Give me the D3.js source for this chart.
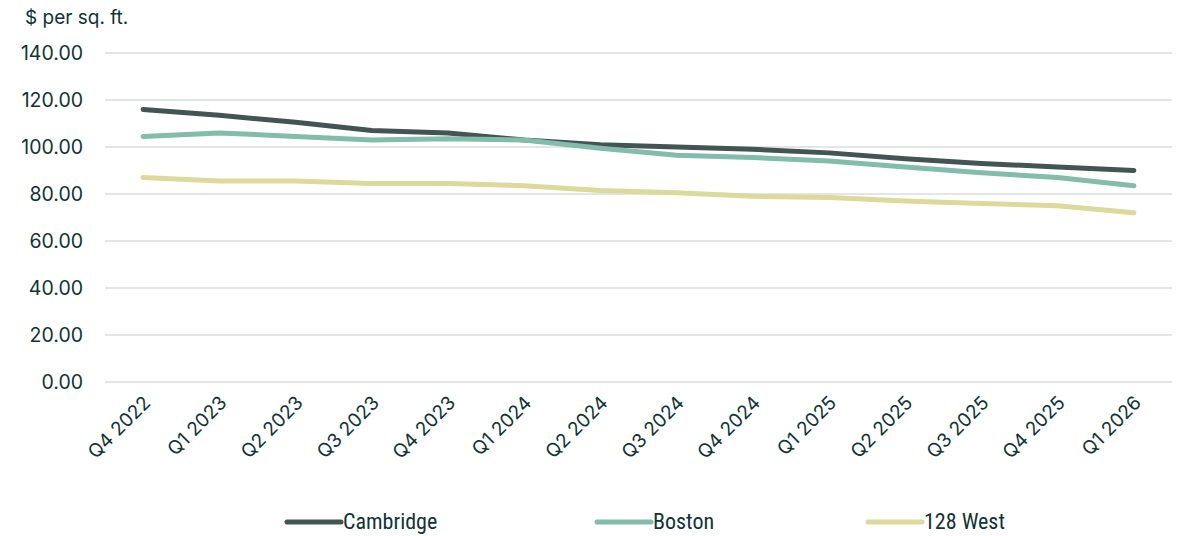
<!DOCTYPE html>
<html>
<head>
<meta charset="utf-8">
<script src="https://cdn.jsdelivr.net/npm/d3@7"></script>
<style>
  html, body { margin: 0; padding: 0; background: #ffffff; }
  svg { display: block; }
</style>
</head>
<body>
<svg id="chart" width="1178" height="536"></svg>
<script>
const categories = ["Q4 2022","Q1 2023","Q2 2023","Q3 2023","Q4 2023","Q1 2024","Q2 2024","Q3 2024","Q4 2024","Q1 2025","Q2 2025","Q3 2025","Q4 2025","Q1 2026"];
const cambridge = [116.0, 113.5, 110.5, 107.0, 106.0, 103.0, 101.0, 100.0, 99.0, 97.5, 95.0, 93.0, 91.5, 90.0];
const boston    = [104.5, 106.0, 104.5, 103.0, 103.5, 103.0, 99.5, 96.5, 95.5, 94.0, 91.5, 89.0, 87.0, 83.5];
const west128   = [87.0, 85.5, 85.5, 84.5, 84.5, 83.5, 81.5, 80.5, 79.0, 78.5, 77.0, 76.0, 75.0, 72.0];
const yTicks = [0, 20, 40, 60, 80, 100, 120, 140];
const seriesNames = ["Cambridge", "Boston", "128 West"];
const seriesColors = ["#435553", "#82bcaa", "#dcd99a"];
const yTitle = "$ per sq. ft.";

(function () {
const series = [cambridge, boston, west128].map((vals, i) => ({ name: seriesNames[i], color: seriesColors[i], values: vals }));

const svg = d3.select("#chart");
const textColor = "#0f3434";
const font = "Inter, 'Open Sans', sans-serif";

const mLeft = 105, mRight = 1172, mTop = 53, mBottom = 382;

const x = d3.scalePoint().domain(categories).range([mLeft, mRight]).padding(0.5);
const y = d3.scaleLinear().domain([0, 140]).range([mBottom, mTop]);

// gridlines
svg.append("g").selectAll("line").data(yTicks).join("line")
  .attr("x1", mLeft).attr("x2", mRight)
  .attr("y1", d => y(d)).attr("y2", d => y(d))
  .attr("stroke", "#e2e7e6").attr("stroke-width", 2);

// y axis labels
const yAxis = d3.axisLeft(y).tickValues(yTicks).tickFormat(d3.format(".2f")).tickSize(0).tickPadding(0);
const gy = svg.append("g").attr("transform", `translate(83,0)`).call(yAxis);
gy.select(".domain").remove();
gy.selectAll("text").attr("fill", textColor).style("font-family", font).style("font-size", "19.5px").attr("dy", "0.35em");

// x axis labels
const xAxis = d3.axisBottom(x).tickSize(0).tickPadding(0);
const gx = svg.append("g").attr("transform", `translate(0,${mBottom})`).call(xAxis);
gx.select(".domain").remove();
gx.selectAll("text")
  .attr("fill", textColor).style("font-family", font).style("font-size", "19px")
  .attr("text-anchor", "end").attr("dy", null).attr("y", 0)
  .attr("transform", "translate(8,22) rotate(-45)");

// title
svg.append("text").attr("x", 25).attr("y", 24).text(yTitle)
  .attr("fill", textColor).style("font-family", font).style("font-size", "19px");

// lines
const line = d3.line().x((d, i) => x(categories[i])).y(d => y(d));
svg.append("g").selectAll("path").data(series).join("path")
  .attr("d", d => line(d.values))
  .attr("fill", "none").attr("stroke", d => d.color)
  .attr("stroke-width", 5).attr("stroke-linecap", "round").attr("stroke-linejoin", "round");

// legend
const legendX = [285, 595, 866];
const lg = svg.append("g").selectAll("g").data(series).join("g")
  .attr("transform", (d, i) => `translate(${legendX[i]},522)`);
lg.append("line").attr("x1", 2).attr("x2", 56).attr("y1", 0).attr("y2", 0)
  .attr("stroke", d => d.color).attr("stroke-width", 5).attr("stroke-linecap", "round");
lg.append("text").attr("x", 58).attr("y", 0).attr("dy", "0.34em").text(d => d.name)
  .attr("fill", textColor).style("font-family", "'Liberation Sans Narrow', 'Roboto Condensed', Roboto, sans-serif").style("font-size", "22px");
})();
</script>
</body>
</html>
